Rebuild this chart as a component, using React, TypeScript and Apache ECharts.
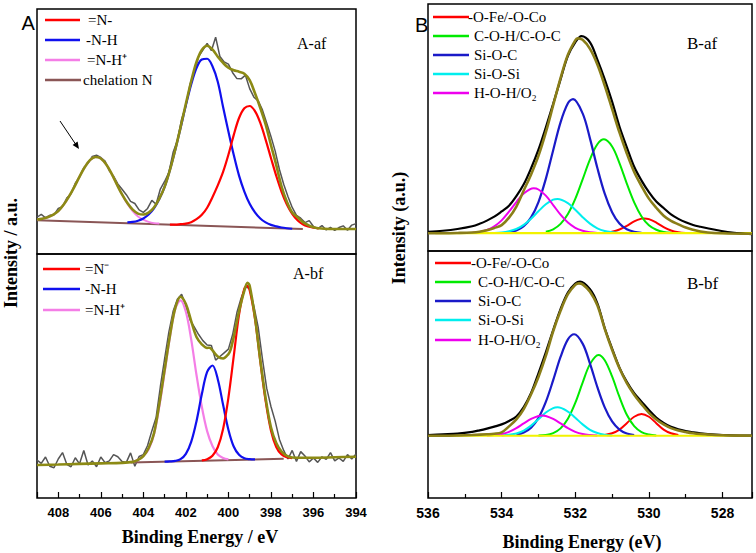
import React, { useEffect, useRef } from 'react';
import * as echarts from 'echarts';

type P = [number, number][];

// ---------- Panel A-af (N 1s, after) : [binding energy eV, intensity a.u.] ----------
const aAfRaw: P = [[409.0,15.0],[408.8,16.2],[408.6,14.8],[408.4,15.8],[408.2,16.0],[408.0,18.6],[407.8,19.3],[407.6,22.8],[407.4,24.6],[407.2,28.9],[407.0,31.4],[406.8,35.2],[406.6,37.0],[406.4,39.8],[406.2,40.3],[406.0,39.4],[405.8,37.9],[405.6,34.0],[405.4,31.8],[405.2,28.6],[405.0,26.4],[404.8,24.2],[404.6,21.5],[404.4,20.6],[404.2,18.0],[404.0,17.0],[403.8,18.6],[403.6,21.9],[403.4,20.3],[403.2,26.5],[403.0,29.6],[402.8,33.2],[402.6,41.5],[402.4,46.2],[402.2,55.0],[402.0,60.5],[401.8,69.4],[401.6,74.4],[401.4,80.6],[401.2,83.2],[401.0,86.0],[400.8,83.0],[400.6,88.5],[400.4,80.6],[400.2,78.4],[400.0,77.5],[399.8,74.0],[399.6,71.6],[399.4,71.5],[399.2,73.0],[399.0,67.5],[398.8,64.0],[398.6,62.5],[398.4,58.8],[398.2,53.5],[398.0,48.0],[397.8,42.0],[397.6,34.5],[397.4,28.5],[397.2,23.5],[397.0,19.0],[396.8,15.8],[396.6,14.6],[396.4,12.8],[396.2,13.6],[396.0,11.2],[395.8,10.4],[395.6,11.6],[395.4,9.8],[395.2,10.9],[395.0,9.6],[394.8,10.8],[394.6,11.5],[394.4,9.7],[394.2,11.8],[394.0,12.4]];
const aAfFit: P = [[409,14.1],[408.75,14.4],[408.5,15.0],[408.25,16.0],[408,17.5],[407.75,20.1],[407.5,23.4],[407.25,27.3],[407,31.6],[406.75,35.5],[406.5,38.4],[406.25,39.6],[406,39.0],[405.75,36.6],[405.5,32.9],[405.25,28.5],[405,24.3],[404.75,20.8],[404.5,18.1],[404.25,16.5],[404,16.1],[403.75,16.9],[403.5,19.0],[403.25,22.6],[403,27.4],[402.75,34.3],[402.5,42.6],[402.25,51.7],[402,61.3],[401.75,70.5],[401.5,78.4],[401.25,83.3],[401,85.0],[400.75,83.5],[400.5,80.5],[400.25,78.0],[400,76.0],[399.75,75.0],[399.5,74.4],[399.25,73.6],[399,71.0],[398.75,65.6],[398.5,59.6],[398.25,52.9],[398,44.5],[397.75,36.3],[397.5,27.5],[397.25,21.3],[397,16.9],[396.75,15.0],[396.5,13.0],[396.25,11.8],[396,10.9],[395.75,10.5],[395.5,10.3],[395,10.2],[394.5,10.2],[394,10.2]];
const aAfPink: P = [[409,14.1],[408.75,14.35],[408.5,15.0],[408.25,16.0],[408,17.5],[407.75,20.1],[407.5,23.4],[407.25,27.3],[407,31.6],[406.75,35.5],[406.5,38.4],[406.25,39.6],[406,39.0],[405.75,36.6],[405.5,32.9],[405.25,28.5],[405,24.3],[404.75,20.5],[404.5,17.5],[404.25,15.3],[404,14.0],[403.75,13.1],[403.5,12.6],[403.25,12.4]];
const aAfBlue: P = [[404.75,12.9],[404.5,13.1],[404.25,13.6],[404,14.5],[403.75,16.1],[403.5,18.6],[403.25,22.4],[403,27.4],[402.75,34.3],[402.5,42.5],[402.25,51.4],[402,60.7],[401.75,69.2],[401.5,75.9],[401.25,79.4],[401,79.7],[400.75,76.6],[400.5,70.3],[400.25,60.0],[400,50.0],[399.75,40.5],[399.5,32.0],[399.25,25.5],[399,20.5],[398.75,17.0],[398.5,14.5],[398.25,12.9],[398,11.9],[397.75,11.3],[397.5,10.8],[397.25,10.5],[397,10.3]];
const aAfRed: P = [[402.75,12.0],[402.5,12.0],[402.25,12.2],[402,12.4],[401.75,13.0],[401.5,14.2],[401.25,16.0],[401,18.9],[400.75,23.2],[400.5,28.0],[400.25,33.5],[400,40.5],[399.75,48.5],[399.5,55.5],[399.25,59.5],[399,60.4],[398.75,58.3],[398.5,53.5],[398.25,46.7],[398,39.2],[397.75,31.9],[397.5,25.4],[397.25,20.2],[397,16.4],[396.75,13.8],[396.5,12.1],[396.25,11.2],[396,10.7],[395.75,10.4]];
const aAfBase: P = [[409,13.8],[396.5,10.2]];

// ---------- Panel A-bf (N 1s, before) ----------
const aBfRaw: P = [[409.0,15.5],[408.8,14.2],[408.6,16.8],[408.4,13.0],[408.2,12.4],[408.0,16.0],[407.8,18.6],[407.6,13.8],[407.4,12.8],[407.2,16.5],[407.0,14.0],[406.8,19.5],[406.6,13.5],[406.4,15.2],[406.2,12.8],[406.0,16.8],[405.8,14.5],[405.6,15.2],[405.4,17.8],[405.2,16.9],[405.0,15.0],[404.8,14.6],[404.6,18.5],[404.4,13.0],[404.2,17.0],[404.0,17.8],[403.8,21.5],[403.6,27.5],[403.4,33.0],[403.2,45.6],[403.0,57.0],[402.8,68.0],[402.6,76.5],[402.4,81.5],[402.2,83.5],[402.0,79.0],[401.8,73.0],[401.6,70.0],[401.4,67.0],[401.2,64.5],[401.0,62.7],[400.8,62.5],[400.6,56.5],[400.4,58.0],[400.2,59.5],[400.0,61.0],[399.8,67.0],[399.6,76.0],[399.4,82.0],[399.2,86.5],[399.0,86.0],[398.8,78.5],[398.6,70.0],[398.4,57.0],[398.2,45.0],[398.0,37.5],[397.8,31.5],[397.6,24.0],[397.4,19.5],[397.2,16.0],[397.0,19.5],[396.8,15.0],[396.6,19.0],[396.4,17.2],[396.2,14.8],[396.0,16.4],[395.8,14.6],[395.6,16.9],[395.4,15.8],[395.2,18.6],[395.0,15.2],[394.8,16.4],[394.6,15.0],[394.4,17.8],[394.2,16.0],[394.0,18.0]];
const aBfFit: P = [[409,13.5],[408,13.7],[407,14.0],[406,14.2],[405,14.4],[404.5,14.8],[404.25,15.6],[404,17.2],[403.75,20.5],[403.5,26.5],[403.25,38.5],[403,52.5],[402.75,66.5],[402.5,77.8],[402.25,82.5],[402,79.5],[401.75,72.5],[401.5,66.0],[401.25,63.0],[401,61.5],[400.9,61.6],[400.75,60.5],[400.5,58.0],[400.25,57.2],[400,59.0],[399.9,60.7],[399.75,66.0],[399.5,76.5],[399.25,85.0],[399.1,88.2],[399,87.0],[398.75,74.0],[398.5,56.5],[398.25,41.0],[398,29.0],[397.75,22.5],[397.5,19.0],[397.25,17.3],[397,16.6],[396.5,16.5],[396,16.5],[395,16.7],[394,16.9]];
const aBfPink: P = [[404.5,14.8],[404.25,15.7],[404,17.2],[403.75,20.0],[403.5,26.0],[403.25,37.5],[403,51.5],[402.75,66.0],[402.5,77.5],[402.25,81.0],[402,76.3],[401.75,65.0],[401.5,50.4],[401.25,37.4],[401,27.4],[400.75,21.3],[400.5,17.8],[400.25,16.4],[400,15.8]];
const aBfBlue: P = [[403.0,14.9],[402.75,15.0],[402.5,15.2],[402.25,15.9],[402,18.1],[401.75,23.0],[401.5,31.5],[401.25,42.5],[401,51.7],[400.75,54.3],[400.5,48.7],[400.25,38.2],[400,28.0],[399.75,21.1],[399.5,17.7],[399.25,16.3],[399,15.9],[398.75,15.8]];
const aBfRed: P = [[401.25,15.4],[401,15.9],[400.75,17.3],[400.5,20.8],[400.25,28.3],[400,41.1],[399.75,58.0],[399.5,75.2],[399.25,85.8],[399.125,86.9],[399,85.1],[398.75,73.5],[398.5,56.1],[398.25,39.8],[398,27.7],[397.75,20.9],[397.5,17.8],[397.25,16.7],[397,16.3]];
const aBfBase: P = [[404.6,14.5],[397.4,16.1]];

// ---------- Panel B-af (O 1s, after) ----------
const bAfRaw: P = [[536.0,7.8],[535.6,8.2],[535.2,8.9],[534.8,10.0],[534.6,11.0],[534.4,12.3],[534.2,13.9],[534.0,16.0],[533.8,18.3],[533.6,22.2],[533.4,27.0],[533.2,33.5],[533.0,41.0],[532.8,50.0],[532.6,59.6],[532.4,69.5],[532.2,79.0],[532.0,84.5],[531.83,87.0],[531.6,84.5],[531.4,77.5],[531.2,69.5],[531.0,60.5],[530.8,50.4],[530.6,42.0],[530.4,34.1],[530.2,28.5],[530.0,23.8],[529.8,20.0],[529.6,17.4],[529.4,14.8],[529.2,13.0],[529.0,11.6],[528.8,10.5],[528.6,9.8],[528.2,8.6],[527.8,7.6],[527.2,6.8]];
const bAfFit: P = [[536.0,7.2],[535.6,7.2],[535.2,7.3],[534.8,7.5],[534.6,7.8],[534.4,8.4],[534.2,9.3],[534.0,10.5],[533.8,13.5],[533.6,18.0],[533.4,24.5],[533.2,31.0],[533.0,38.5],[532.8,48.0],[532.6,59.0],[532.4,70.0],[532.2,79.5],[532.0,85.3],[531.94,86.1],[531.8,85.5],[531.6,81.8],[531.4,75.5],[531.2,67.0],[531.0,57.5],[530.8,48.0],[530.6,39.5],[530.4,32.0],[530.2,26.3],[530.0,21.2],[529.8,17.5],[529.6,14.3],[529.4,12.2],[529.2,10.8],[529.0,9.5],[528.8,8.6],[528.6,7.9],[528.4,7.5],[528.0,7.2],[527.2,7.0]];
const bAfRed: P = [[531.2,7.4],[531.0,7.8],[530.8,8.7],[530.6,10.2],[530.4,12.0],[530.2,13.1],[530.13,13.2],[530.0,12.9],[529.8,11.5],[529.6,9.7],[529.4,8.3],[529.2,7.6],[529.0,7.3]];
const bAfGreen: P = [[532.8,7.8],[532.6,8.8],[532.4,11.0],[532.2,15.0],[532.0,21.1],[531.8,29.0],[531.6,37.1],[531.4,43.2],[531.22,45.2],[531.0,42.3],[530.8,35.6],[530.6,27.3],[530.4,19.7],[530.2,14.0],[530.0,10.4],[529.8,8.6],[529.6,7.7],[529.4,7.4]];
const bAfBlue: P = [[533.8,7.6],[533.6,8.3],[533.4,10.0],[533.2,13.6],[533.0,19.8],[532.8,29.2],[532.6,40.8],[532.4,52.1],[532.2,59.8],[532.06,61.5],[531.8,55.7],[531.6,45.5],[531.4,33.6],[531.2,23.2],[531.0,15.7],[530.8,11.1],[530.6,8.8],[530.4,7.8],[530.2,7.4]];
const bAfCyan: P = [[534.2,7.3],[534.0,7.5],[533.8,8.0],[533.6,8.9],[533.4,10.6],[533.2,13.1],[533.0,16.1],[532.8,18.9],[532.6,20.8],[532.48,21.1],[532.2,19.4],[532.0,16.7],[531.8,13.7],[531.6,11.1],[531.4,9.2],[531.2,8.1],[531.0,7.6],[530.8,7.3]];
const bAfMagenta: P = [[534.8,7.4],[534.6,7.7],[534.4,8.5],[534.2,10.0],[534.0,12.4],[533.8,15.9],[533.6,19.8],[533.4,23.3],[533.13,25.4],[533.0,24.9],[532.8,22.4],[532.6,18.6],[532.4,14.7],[532.2,11.5],[532.0,9.4],[531.8,8.2],[531.6,7.6],[531.4,7.3]];
const bAfBase: P = [[535.8,7.2],[527.2,7.2]];

// ---------- Panel B-bf (O 1s, before) ----------
const bBfRaw: P = [[536.0,25.5],[535.6,25.8],[535.2,26.1],[534.8,26.8],[534.6,27.4],[534.4,28.1],[534.2,28.9],[534.0,29.8],[533.8,31.2],[533.6,33.0],[533.4,36.8],[533.2,42.5],[533.0,50.5],[532.8,59.0],[532.6,68.0],[532.4,76.5],[532.2,83.2],[532.0,86.8],[531.87,87.6],[531.6,84.5],[531.4,78.8],[531.2,68.8],[531.0,60.5],[530.8,52.8],[530.6,47.0],[530.4,42.4],[530.2,39.0],[530.0,35.6],[529.8,32.6],[529.6,30.4],[529.4,28.8],[529.2,27.8],[529.0,27.1],[528.8,26.6],[528.6,26.2],[528.2,25.7],[527.8,25.4],[527.2,25.3]];
const bBfFit: P = [[536.0,25.2],[535.6,25.2],[535.2,25.3],[534.8,25.5],[534.4,25.8],[534.2,26.0],[534.0,26.6],[533.8,29.0],[533.6,31.8],[533.4,36.0],[533.2,42.0],[533.0,49.0],[532.8,57.5],[532.6,67.5],[532.4,75.8],[532.2,82.5],[532.0,86.3],[531.9,86.9],[531.8,86.5],[531.6,83.5],[531.4,78.0],[531.2,68.5],[531.0,60.0],[530.8,52.5],[530.6,46.5],[530.4,41.8],[530.2,38.0],[530.0,34.5],[529.8,31.8],[529.6,29.8],[529.4,28.3],[529.2,27.3],[529.0,26.7],[528.8,26.2],[528.6,25.9],[528.2,25.5],[527.8,25.3],[527.2,25.2]];
const bBfRed: P = [[531.2,25.5],[531.0,26.2],[530.8,27.7],[530.6,30.3],[530.4,32.9],[530.2,34.0],[530.0,32.9],[529.8,30.3],[529.6,27.7],[529.4,26.2],[529.2,25.5]];
const bBfGreen: P = [[533.0,25.3],[532.8,25.5],[532.6,26.3],[532.4,28.2],[532.2,32.1],[532.0,38.5],[531.8,46.7],[531.6,54.2],[531.37,57.9],[531.2,55.8],[531.0,49.2],[530.8,40.9],[530.6,33.7],[530.4,29.1],[530.2,26.7],[530.0,25.7],[529.8,25.3]];
const bBfBlue: P = [[533.6,25.6],[533.4,26.5],[533.2,28.5],[533.0,32.4],[532.8,38.9],[532.6,47.7],[532.4,57.1],[532.2,64.2],[532.03,66.3],[531.8,62.5],[531.6,54.4],[531.4,44.9],[531.2,36.7],[531.0,31.0],[530.8,27.7],[530.6,26.1],[530.4,25.5]];
const bBfCyan: P = [[534.0,25.3],[533.8,25.6],[533.6,26.1],[533.4,27.3],[533.2,29.3],[533.0,31.9],[532.8,34.6],[532.6,36.4],[532.48,36.7],[532.2,35.0],[532.0,32.5],[531.8,29.8],[531.6,27.6],[531.4,26.3],[531.2,25.6],[531.0,25.3]];
const bBfMagenta: P = [[534.4,25.3],[534.2,25.5],[534.0,25.9],[533.8,26.8],[533.6,28.3],[533.4,30.2],[533.2,32.0],[533.0,33.2],[532.9,33.4],[532.8,33.2],[532.6,32.0],[532.4,30.2],[532.2,28.3],[532.0,26.8],[531.8,25.9],[531.6,25.5],[531.4,25.3]];
const bBfBase: P = [[536.0,25.2],[527.2,25.2]];

// ---------- texts ----------
const aTicksFmt = (v: number) => (v % 2 === 0 ? String(v) : '');
const bTicksFmt = (v: number) => (Number.isInteger(v) && v % 2 === 0 ? String(v) : '');
const legendAaf = ['=N-', '-N-H', '=N-H\u207A', 'chelation N'];
const legendAbf = ['=N\u207B', '-N-H', '=N-H\u207A'];
const legendB = ['-O-Fe/-O-Co', 'C-O-H/C-O-C', 'Si-O-C', 'Si-O-Si', 'H-O-H/O\u2082'];

const SERIF = '"Liberation Serif", "Times New Roman", serif';
const SANS = '"Liberation Sans", Arial, sans-serif';

const C = {
  red: '#ff0000',
  blueA: '#1010ee',
  pink: '#f47ee6',
  brown: '#8a5656',
  oliveA: '#8c8a14',
  gray: '#555555',
  green: '#00ea00',
  blueB: '#1a1ac8',
  cyan: '#00eeee',
  magenta: '#ee00ee',
  yellow: '#f2f200',
  black: '#000000',
  oliveB: '#8a7e18',
};

function ln(data: P, idx: number, color: string, width: number, z: number, smooth: number | boolean = 0.35) {
  return {
    type: 'line',
    xAxisIndex: idx,
    yAxisIndex: idx,
    data,
    showSymbol: false,
    symbol: 'none',
    smooth,
    silent: true,
    z,
    lineStyle: { color, width },
  };
}

function txt(x: number, y: number, text: string, size: number, family: string, weight = 'normal', align = 'left', rotation = 0) {
  return {
    type: 'text',
    x,
    y,
    rotation,
    silent: true,
    z: 100,
    style: {
      text,
      x: 0,
      y: 0,
      fill: '#000',
      fontSize: size,
      fontFamily: family,
      fontWeight: weight,
      textAlign: align,
      textVerticalAlign: 'middle',
      align,
      verticalAlign: 'middle',
    },
  };
}

function seg(x1: number, y1: number, x2: number, y2: number, color: string, w = 2.5) {
  return { type: 'line', silent: true, z: 100, shape: { x1, y1, x2, y2 }, style: { stroke: color, lineWidth: w } };
}

export default function App() {
  const ref = useRef<HTMLDivElement>(null);
  useEffect(() => {
    if (!ref.current) return;
    const chart = echarts.init(ref.current, null, { renderer: 'svg' });
    const gridBase = { show: true, borderColor: '#000', borderWidth: 1.5, backgroundColor: 'transparent', containLabel: false };
    const hiddenX = (gridIndex: number, min: number, max: number) => ({ gridIndex, type: 'value', min, max, inverse: true, show: false });
    const tickX = (gridIndex: number, min: number, max: number, fmt: (v: number) => string, fs: number, extra: any) => ({
      gridIndex,
      type: 'value',
      min,
      max,
      inverse: true,
      ...extra,
      axisLine: { show: false },
      axisTick: { show: true, inside: true, length: 6, lineStyle: { color: '#000', width: 1.2 } },
      minorTick: { show: true, inside: true, splitNumber: 2, length: 4, lineStyle: { color: '#000', width: 1.2 } },
      splitLine: { show: false },
      minorSplitLine: { show: false },
      axisLabel: { formatter: fmt, color: '#000', fontSize: fs, fontWeight: 'bold', fontFamily: SANS, margin: 8 },
    });
    const yAx = (gridIndex: number) => ({ gridIndex, type: 'value', min: 0, max: 100, show: false });

    const legendLinesAaf = [C.red, C.blueA, C.pink, C.brown];
    const legendLinesAbf = [C.red, C.blueA, C.pink];
    const legendLinesB = [C.red, C.green, C.blueB, C.cyan, C.magenta];

    const graphics: any[] = [];
    // panel letters
    graphics.push(txt(21.5, 22.5, 'A', 20, SANS));
    graphics.push(txt(415, 24.5, 'B', 20, SANS));
    // panel tags
    graphics.push(txt(297, 43, 'A-af', 16, SERIF));
    graphics.push(txt(293, 273, 'A-bf', 16, SERIF));
    graphics.push(txt(687, 43, 'B-af', 17, SERIF));
    graphics.push(txt(687, 283, 'B-bf', 17, SERIF));
    // axis titles
    graphics.push(txt(200, 537, 'Binding Energy / eV', 18, SERIF, 'bold', 'center'));
    graphics.push(txt(582, 542, 'Binding Energy (eV)', 18, SERIF, 'bold', 'center'));
    graphics.push(txt(11, 253, 'Intensity / a.u.', 18, SERIF, 'bold', 'center', Math.PI / 2));
    graphics.push(txt(399, 228, 'Intensity (a.u.)', 18, SERIF, 'bold', 'center', Math.PI / 2));
    // legend A-af
    const aafRows = [20, 40, 60, 80];
    const aafTextX = [88, 86, 87, 83];
    aafRows.forEach((y, i) => {
      graphics.push(seg(45, y, i === 3 ? 81 : 80, y, legendLinesAaf[i]));
      graphics.push(txt(aafTextX[i], y, legendAaf[i], 15, SERIF));
    });
    // legend A-bf
    const abfRows = [269, 289, 310];
    abfRows.forEach((y, i) => {
      graphics.push(seg(43, y, 80, y, legendLinesAbf[i]));
      graphics.push(txt(85, y, legendAbf[i], 15, SERIF));
    });
    // legend B-af
    const bafRows = [17, 36, 55, 74, 93];
    bafRows.forEach((y, i) => {
      graphics.push(seg(433, y, 469, y, legendLinesB[i]));
      graphics.push(txt(i === 0 ? 468 : 474, y, legendB[i], 15, SERIF));
    });
    // legend B-bf
    const bbfRows = [263, 282, 301, 320, 340];
    bbfRows.forEach((y, i) => {
      graphics.push(seg(435, y, 471, y, legendLinesB[i]));
      graphics.push(txt(i === 0 ? 471 : 478, y, legendB[i], 15, SERIF));
    });
    // arrow in A-af
    graphics.push(seg(60, 121, 76.5, 145.5, '#000', 1));
    graphics.push({
      type: 'polygon',
      silent: true,
      z: 100,
      shape: { points: [[79, 149], [77.6, 141.5], [72.6, 144.9]] },
      style: { fill: '#000' },
    });

    const option: any = {
      animation: false,
      backgroundColor: '#fff',
      grid: [
        { ...gridBase, left: 37, top: 9, width: 319, height: 245 },
        { ...gridBase, left: 37, top: 254, width: 319, height: 244 },
        { ...gridBase, left: 428, top: 4, width: 324, height: 247 },
        { ...gridBase, left: 428, top: 251, width: 324, height: 247 },
      ],
      xAxis: [
        hiddenX(0, 394, 409),
        tickX(1, 394, 409, aTicksFmt, 13, { interval: 2 }),
        hiddenX(2, 527.2, 536),
        tickX(3, 527.2, 536, bTicksFmt, 14, { splitNumber: 4 }),
      ],
      yAxis: [yAx(0), yAx(1), yAx(2), yAx(3)],
      series: [
        // A-af
        ln(aAfRaw, 0, C.gray, 1.5, 2, false),
        ln(aAfBase, 0, C.brown, 2, 3, false),
        ln(aAfPink, 0, C.pink, 2, 4),
        ln(aAfBlue, 0, C.blueA, 2.2, 5),
        ln(aAfRed, 0, C.red, 2.2, 6),
        ln(aAfFit, 0, C.oliveA, 2.6, 7),
        // A-bf
        ln(aBfRaw, 1, C.gray, 1.5, 2, false),
        ln(aBfBase, 1, C.brown, 2, 3, false),
        ln(aBfPink, 1, C.pink, 2.2, 4),
        ln(aBfBlue, 1, C.blueA, 2.2, 5),
        ln(aBfRed, 1, C.red, 2.2, 6),
        ln(aBfFit, 1, C.oliveA, 2.6, 7),
        // B-af
        ln(bAfRed, 2, C.red, 2, 3),
        ln(bAfGreen, 2, C.green, 2, 3),
        ln(bAfBlue, 2, C.blueB, 2.2, 3),
        ln(bAfCyan, 2, C.cyan, 2, 3),
        ln(bAfMagenta, 2, C.magenta, 2, 3),
        ln(bAfBase, 2, C.yellow, 2.2, 4, false),
        ln(bAfRaw, 2, C.black, 2.2, 5),
        ln(bAfFit, 2, C.oliveB, 2.6, 6),
        // B-bf
        ln(bBfRed, 3, C.red, 2, 3),
        ln(bBfGreen, 3, C.green, 2, 3),
        ln(bBfBlue, 3, C.blueB, 2.2, 3),
        ln(bBfCyan, 3, C.cyan, 2, 3),
        ln(bBfMagenta, 3, C.magenta, 2, 3),
        ln(bBfBase, 3, C.yellow, 2.2, 4, false),
        ln(bBfRaw, 3, C.black, 2.2, 5),
        ln(bBfFit, 3, C.oliveB, 2.6, 6),
      ],
      graphic: graphics,
    };
    chart.setOption(option);
    return () => chart.dispose();
  }, []);
  return (
    <div
      ref={ref}
      style={{ position: 'fixed', left: 0, top: 0, width: 756, height: 553, background: '#fff' }}
    />
  );
}
